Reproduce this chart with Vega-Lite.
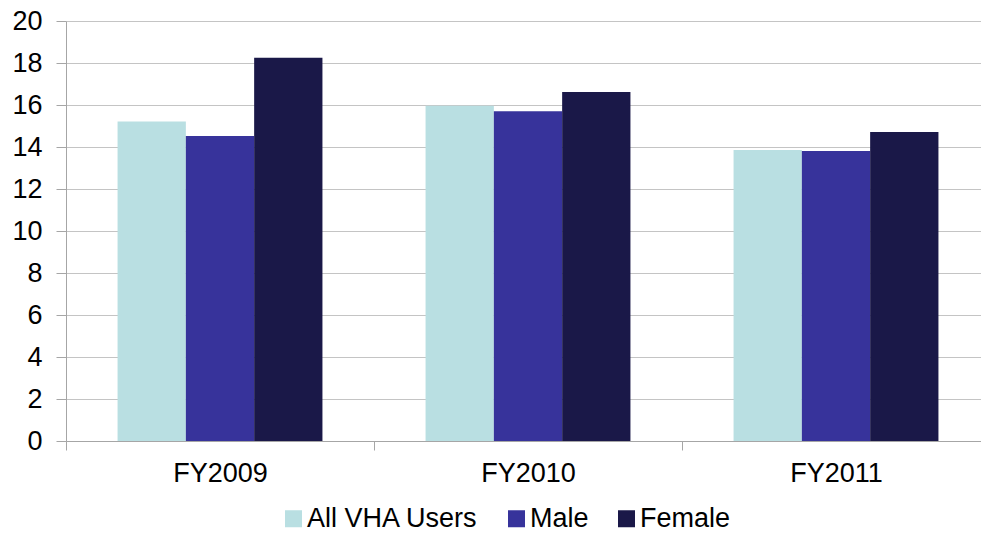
{
  "$schema": "https://vega.github.io/schema/vega-lite/v6.json",
  "width": 915,
  "height": 420,
  "autosize": {"type": "none"},
  "padding": {"left": 66, "top": 21, "right": 0, "bottom": 92},
  "background": "white",
  "config": {"view": {"stroke": null}, "font": "Liberation Sans"},
  "data": {
    "values": [
      {"year": "FY2009", "group": "All VHA Users", "value": 15.22},
      {"year": "FY2009", "group": "Male", "value": 14.52},
      {"year": "FY2009", "group": "Female", "value": 18.25},
      {"year": "FY2010", "group": "All VHA Users", "value": 15.97},
      {"year": "FY2010", "group": "Male", "value": 15.7},
      {"year": "FY2010", "group": "Female", "value": 16.62},
      {"year": "FY2011", "group": "All VHA Users", "value": 13.86},
      {"year": "FY2011", "group": "Male", "value": 13.81},
      {"year": "FY2011", "group": "Female", "value": 14.71}
    ]
  },
  "mark": {"type": "bar"},
  "encoding": {
    "x": {
      "field": "year",
      "type": "nominal",
      "scale": {"range": [0, 924], "paddingInner": 0, "paddingOuter": 0},
      "axis": {
        "title": null,
        "labelAngle": 0,
        "labelFontSize": 27,
        "labelColor": "#000000",
        "labelPadding": 10,
        "tickBand": "extent",
        "tickSize": 9,
        "tickColor": "#a6a6a6",
        "domainColor": "#a6a6a6",
        "grid": false
      }
    },
    "xOffset": {
      "field": "group",
      "type": "nominal",
      "sort": ["All VHA Users", "Male", "Female"],
      "scale": {"paddingInner": 0, "paddingOuter": 0.755}
    },
    "y": {
      "field": "value",
      "type": "quantitative",
      "scale": {"domain": [0, 20], "nice": false},
      "axis": {
        "title": null,
        "values": [0, 2, 4, 6, 8, 10, 12, 14, 16, 18, 20],
        "labelFontSize": 27,
        "labelColor": "#000000",
        "labelPadding": 14,
        "tickSize": 10,
        "tickColor": "#a6a6a6",
        "domainColor": "#a6a6a6",
        "gridColor": "#c4c4c4"
      }
    },
    "color": {
      "field": "group",
      "type": "nominal",
      "sort": ["All VHA Users", "Male", "Female"],
      "scale": {"domain": ["All VHA Users", "Male", "Female"], "range": ["#b9dfe2", "#37339b", "#1a1848"]},
      "legend": {
        "title": null,
        "orient": "none",
        "legendX": 214,
        "legendY": 484,
        "direction": "horizontal",
        "symbolType": "square",
        "symbolSize": 289,
        "symbolStrokeWidth": 0,
        "labelFontSize": 27,
        "labelColor": "#000000",
        "labelOffset": 0,
        "labelLimit": 0,
        "columnPadding": 24
      }
    }
  }
}
